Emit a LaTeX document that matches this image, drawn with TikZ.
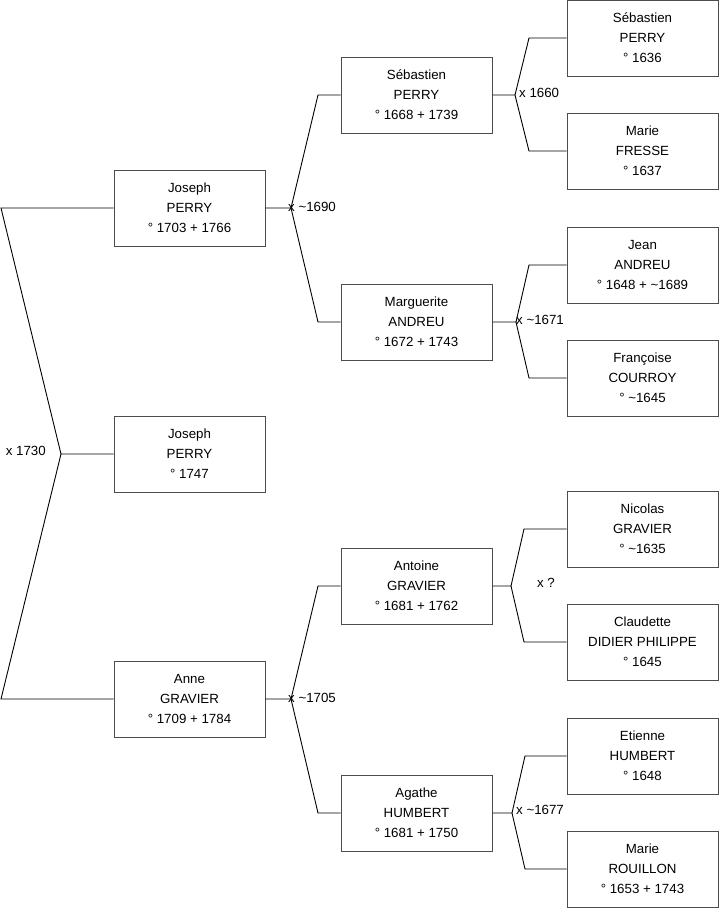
\documentclass[tikz,border=0pt]{standalone}
\usepackage{fontspec}
\setmainfont{Liberation Sans}
\usetikzlibrary{positioning}
\begin{document}
\begin{tikzpicture}[
  x=1pt,y=-1pt,
  person/.style={draw=black!70,line width=1pt,rectangle,minimum width=151pt,minimum height=76pt,inner sep=0pt,align=center,font=\fontsize{13.3}{20}\selectfont},
  link/.style={draw=black,line width=0.9pt},
  union/.style={font=\fontsize{13.3}{15}\selectfont,inner sep=0pt}
]
  \useasboundingbox (0,0) rectangle (719,908);
  % generation 1
  \node[person] (jperry) at (189.5,208) {Joseph\\PERRY\\° 1703 + 1766};
  \node[person] (jperry2) at (189.5,454) {Joseph\\PERRY\\° 1747};
  \node[person] (agravier) at (189.5,699) {Anne\\GRAVIER\\° 1709 + 1784};
  % generation 2
  \node[person] (sperry) at (416.5,95) {Sébastien\\PERRY\\° 1668 + 1739};
  \node[person] (mandreu) at (416.5,322) {Marguerite\\ANDREU\\° 1672 + 1743};
  \node[person] (atgravier) at (416.5,586) {Antoine\\GRAVIER\\° 1681 + 1762};
  \node[person] (ahumbert) at (416.5,813) {Agathe\\HUMBERT\\° 1681 + 1750};
  % generation 3
  \node[person] (sperry0) at (642.5,38) {Sébastien\\PERRY\\° 1636};
  \node[person] (mfresse) at (642.5,151) {Marie\\FRESSE\\° 1637};
  \node[person] (jandreu) at (642.5,265) {Jean\\ANDREU\\° 1648 + \textasciitilde1689};
  \node[person] (fcourroy) at (642.5,378) {Françoise\\COURROY\\° \textasciitilde1645};
  \node[person] (ngravier) at (642.5,529) {Nicolas\\GRAVIER\\° \textasciitilde1635};
  \node[person] (cdidier) at (642.5,642) {Claudette\\DIDIER PHILIPPE\\° 1645};
  \node[person] (ehumbert) at (642.5,756) {Etienne\\HUMBERT\\° 1648};
  \node[person] (mrouillon) at (642.5,869) {Marie\\ROUILLON\\° 1653 + 1743};

  % unions
  \coordinate (u1730) at (61,454);
  \coordinate (u1690) at (291,208);
  \coordinate (u1705) at (291,699);
  \coordinate (u1660) at (515,95);
  \coordinate (u1671) at (516,322);
  \coordinate (u1635) at (511,586);
  \coordinate (u1677) at (512,813);

  \draw[link] (jperry.west) -- (1,208) -- (u1730) -- (jperry2.west);
  \draw[link] (u1730) -- (1,699) -- (agravier.west);
  \node[union,anchor=east] (l1730) at (46,451) {x 1730};

  \draw[link] (jperry.east) -- (u1690) -- (318,95) -- (sperry.west);
  \draw[link] (u1690) -- (318,322) -- (mandreu.west);
  \node[union,anchor=west] (l1690) at (288,207) {x \textasciitilde1690};

  \draw[link] (agravier.east) -- (u1705) -- (318,586) -- (atgravier.west);
  \draw[link] (u1705) -- (318,813) -- (ahumbert.west);
  \node[union,anchor=west] (l1705) at (288,698) {x \textasciitilde1705};

  \draw[link] (sperry.east) -- (u1660) -- (529,38) -- (sperry0.west);
  \draw[link] (u1660) -- (529,151) -- (mfresse.west);
  \node[union,anchor=west] (l1660) at (519,93) {x 1660};

  \draw[link] (mandreu.east) -- (u1671) -- (529,265) -- (jandreu.west);
  \draw[link] (u1671) -- (529,378) -- (fcourroy.west);
  \node[union,anchor=west] (l1671) at (516,320) {x \textasciitilde1671};

  \draw[link] (atgravier.east) -- (u1635) -- (524,529) -- (ngravier.west);
  \draw[link] (u1635) -- (524,642) -- (cdidier.west);
  \node[union] (lq) at (546,583) {x ?};

  \draw[link] (ahumbert.east) -- (u1677) -- (525,756) -- (ehumbert.west);
  \draw[link] (u1677) -- (525,869) -- (mrouillon.west);
  \node[union,anchor=west] (l1677) at (516,810) {x \textasciitilde1677};
\end{tikzpicture}
\end{document}
